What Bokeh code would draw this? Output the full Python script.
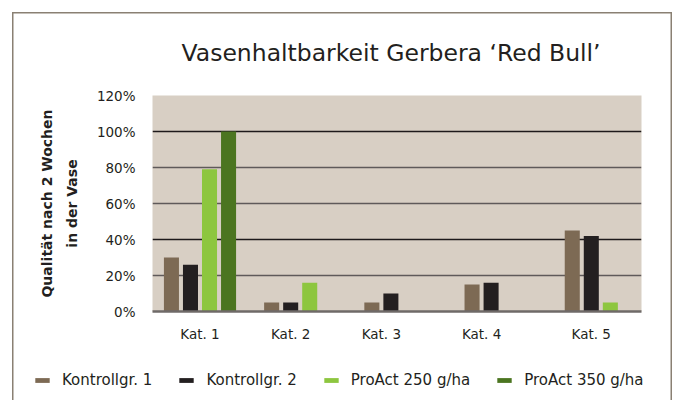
from bokeh.plotting import figure
from bokeh.models import (ColumnDataSource, FixedTicker, Grid, Legend, LegendItem,
                          PrintfTickFormatter, Range1d)
from bokeh.embed import file_html
from bokeh.resources import INLINE

# ---- data ----
categories = ["Kat. 1", "Kat. 2", "Kat. 3", "Kat. 4", "Kat. 5"]
series_names = ["Kontrollgr. 1", "Kontrollgr. 2", "ProAct 250 g/ha", "ProAct 350 g/ha"]
kontroll1 = [30, 5, 5, 15, 45]
kontroll2 = [26, 5, 10, 16, 42]
proact250 = [79, 16, 0, 0, 5]
proact350 = [100, 0, 0, 0, 0]
y_ticks = [0, 20, 40, 60, 80, 100, 120]

series = [kontroll1, kontroll2, proact250, proact350]
colors = ["#7d6a54", "#231f20", "#8dc63f", "#4b7520"]

FONT = "DejaVu Sans"
TEXT = "#231f20"
FRAME_COL = "#8a8073"
BAR_W = 0.15
PITCH = 0.19
offsets = [(k - 1.5) * PITCH for k in range(len(series))]

p = figure(width=672, height=344, output_backend="svg", toolbar_location=None,
           x_range=Range1d(-0.474, 4.406), y_range=Range1d(0, 120),
           min_border_left=152, min_border_right=31, min_border_top=95, min_border_bottom=30,
           background_fill_color="#d8cfc4", border_fill_color=None,
           outline_line_color=None,
           title="Vasenhaltbarkeit Gerbera \u2018Red Bull\u2019")

p.styles = {"box-shadow": ("inset 12px 12px 0 0 white, "
                           f"inset 13.5px 13.5px 0 0 {FRAME_COL}, "
                           f"inset -1.5px 0 0 0 {FRAME_COL}")}

p.title.text_font = FONT
p.title.text_font_size = "23.5px"
p.title.text_font_style = "normal"
p.title.text_color = TEXT
p.title.align = "left"
p.title.offset = 29
p.title.standoff = 57

# grids: alternate dark / grey lines as in the reference
p.xgrid.visible = False
p.ygrid.visible = False
dark_grid = Grid(dimension=1, ticker=FixedTicker(ticks=[40, 100, 120]),
                 grid_line_color="#1e1a1b", grid_line_width=1.3)
grey_grid = Grid(dimension=1, ticker=FixedTicker(ticks=[20, 60, 80]),
                 grid_line_color="#5f5a5a", grid_line_width=1.3)
p.add_layout(dark_grid)
p.add_layout(grey_grid)

sources = []
for k, (vals, col) in enumerate(zip(series, colors)):
    src = ColumnDataSource(dict(x=[i + offsets[k] for i in range(len(categories))], top=vals))
    p.vbar(x="x", top="top", bottom=0, width=BAR_W, source=src,
           fill_color=col, line_color=None)
    sources.append(src)

# category labels centred under the bars that are present
tick_pos = []
for i in range(len(categories)):
    present = [offsets[k] for k in range(len(series)) if series[k][i] > 0]
    tick_pos.append(round(i + sum(present) / len(present), 4))

xa = p.xaxis[0]
xa.ticker = FixedTicker(ticks=tick_pos)
xa.major_label_overrides = {t: c for t, c in zip(tick_pos, categories)}
xa.major_tick_line_color = None
xa.minor_tick_line_color = None
xa.axis_line_color = "#6f6a68"
xa.axis_line_width = 2.5
xa.major_label_text_font = FONT
xa.major_label_text_font_size = "13.5px"
xa.major_label_text_color = TEXT
xa.major_label_standoff = 8

ya = p.yaxis[0]
ya.ticker = FixedTicker(ticks=y_ticks)
ya.formatter = PrintfTickFormatter(format="%d%%")
ya.axis_line_color = None
ya.major_tick_line_color = None
ya.minor_tick_line_color = None
ya.major_label_text_font = FONT
ya.major_label_text_font_size = "13.5px"
ya.major_label_text_color = TEXT
ya.major_label_standoff = 11
ya.axis_label = "Qualit\u00e4t nach 2 Wochen\nin der Vase"
ya.axis_label_text_font = FONT
ya.axis_label_text_font_size = "14px"
ya.axis_label_text_font_style = "bold"
ya.axis_label_text_color = TEXT
ya.axis_label_text_line_height = 1.55
ya.axis_label_standoff = 14

# ---- legend strip below the chart (separate root, so frames are not aligned) ----
lg = figure(width=672, height=56, output_backend="svg", toolbar_location=None,
            x_range=Range1d(-0.474, 4.406), y_range=Range1d(500, 600),
            x_axis_location=None, y_axis_location=None,
            min_border=0, outline_line_color=None,
            background_fill_color=None, border_fill_color=None)
lg.grid.visible = False
lg.styles = {"box-shadow": ("inset 12px 0 0 0 white, "
                            f"inset 13.5px 0 0 0 {FRAME_COL}, "
                            f"inset -1.5px 0 0 0 {FRAME_COL}")}
items = []
for name, col, src in zip(series_names, colors, sources):
    # same data; the strip's y-range keeps the bars out of view, only the legend shows
    r = lg.vbar(x="x", top="top", bottom=0, width=BAR_W, source=src,
                fill_color=col, line_color=None)
    items.append(LegendItem(label=name, renderers=[r]))

legend = Legend(items=items, orientation="horizontal", location=(33, 10),
                glyph_width=18, glyph_height=6, label_standoff=11, spacing=25,
                padding=0, margin=0, border_line_color=None, background_fill_alpha=0,
                label_text_font=FONT, label_text_font_size="15px", label_text_color=TEXT,
                label_height=20)
lg.add_layout(legend, "center")

open("out.html", "w").write(file_html([p, lg], INLINE))
